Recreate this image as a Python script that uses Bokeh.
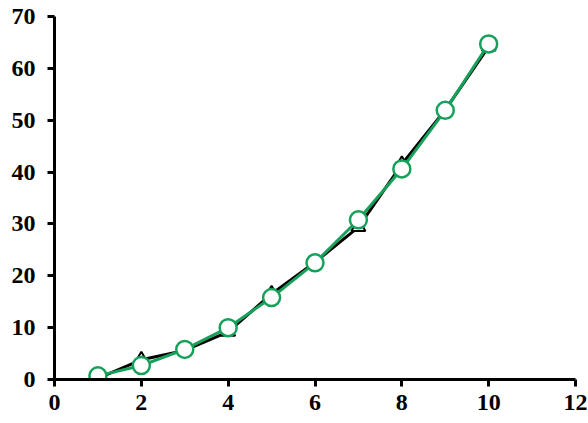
from bokeh.plotting import figure
from bokeh.models import Range1d, FixedTicker
from bokeh.embed import file_html
from bokeh.resources import INLINE

x_vals = [1, 2, 3, 4, 5, 6, 7, 8, 9, 10]
black_series = [0.2, 3.8, 5.6, 9.2, 16.5, 22.6, 29.4, 41.5, 52.0, 64.2]
green_series = [0.7, 2.7, 5.8, 10.0, 15.8, 22.5, 30.8, 40.6, 51.9, 64.7]
x_ticks = [0, 2, 4, 6, 8, 10, 12]
y_ticks = [0, 10, 20, 30, 40, 50, 60, 70]

GREEN = "#17a05a"
FONT = "Liberation Serif"

p = figure(width=588, height=423, output_backend="svg", toolbar_location=None,
           x_range=Range1d(0, 12), y_range=Range1d(0, 70),
           min_border_left=54, min_border_top=16, min_border_right=13, min_border_bottom=44)
p.outline_line_color = None
p.grid.visible = False
p.background_fill_color = "white"
p.border_fill_color = "white"

for ax in (p.xaxis[0], p.yaxis[0]):
    ax.axis_line_width = 3
    ax.axis_line_color = "black"
    ax.major_tick_line_width = 3
    ax.major_tick_line_color = "black"
    ax.major_tick_in = 0
    ax.major_tick_out = 7
    ax.minor_tick_line_color = None
    ax.major_label_text_font = FONT
    ax.major_label_text_font_style = "bold"
    ax.major_label_text_font_size = "24px"
    ax.major_label_text_color = "black"

p.xaxis[0].ticker = FixedTicker(ticks=x_ticks)
p.yaxis[0].ticker = FixedTicker(ticks=y_ticks)
p.xaxis[0].major_label_standoff = 8
p.yaxis[0].major_label_standoff = 12

p.line(x_vals, black_series, line_color="black", line_width=3)
p.scatter(x_vals, black_series, marker="triangle", size=14, line_color="black",
          fill_color="white", line_width=2)
p.line(x_vals, green_series, line_color=GREEN, line_width=3)
p.scatter(x_vals, green_series, marker="circle", size=17, line_color=GREEN,
          fill_color="white", line_width=2.5)

open("out.html", "w").write(file_html(p, INLINE))
